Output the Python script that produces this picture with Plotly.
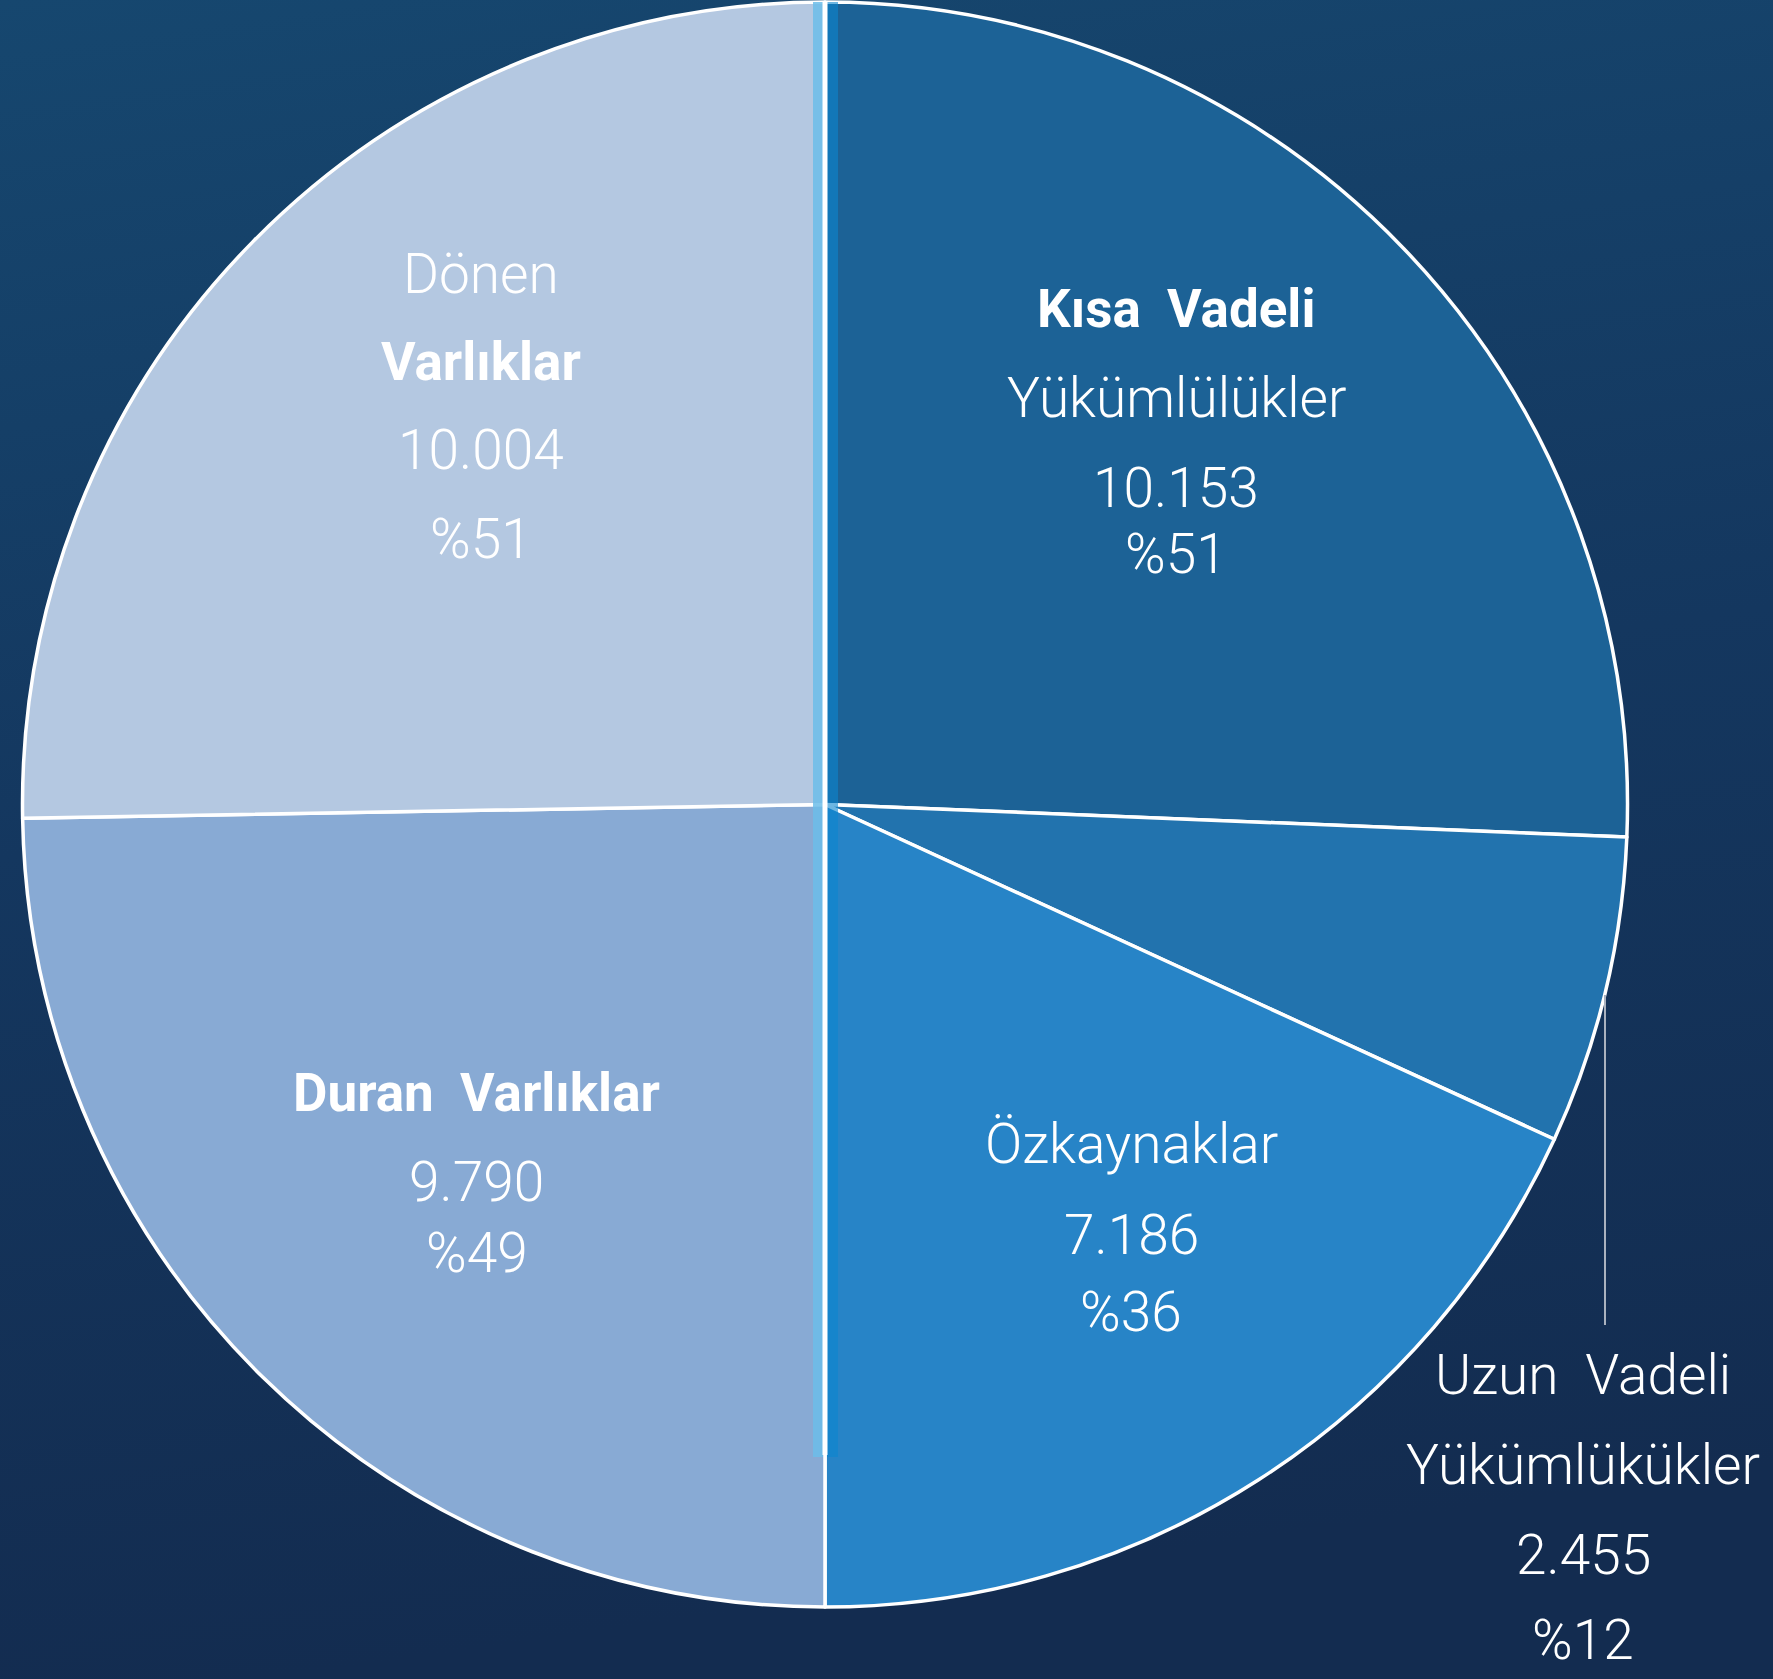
import base64
import plotly.graph_objects as go

W, H = 1773, 1679

# ---- data ----
slice_names = ["Kısa Vadeli Yükümlülükler", "Uzun Vadeli Yükümlülükler",
               "Özkaynaklar", "Duran Varlıklar", "Dönen Varlıklar"]
slice_values = [10153, 2455, 7186, 9790, 10004]
slice_pcts = [51, 12, 36, 49, 51]
slice_colors = ["#1c6296", "#2273ae", "#2784c7", "#88aad4", "#b4c8e1"]
# title lines for each slice: (text, bold)
slice_title_lines = [
    [("Kısa  Vadeli", True), ("Yükümlülükler", False)],
    [("Uzun  Vadeli", False), ("Yükümlükükler", False)],
    [("Özkaynaklar", False)],
    [("Duran  Varlıklar", True)],
    [("Dönen", False), ("Varlıklar", True)],
]
# label line centre positions in pixels (x, list of y)
label_x = [1176, 1583, 1131, 477, 481]
label_y = [
    [309, 398, 488, 554],
    [1375, 1465, 1555, 1640],
    [1144, 1235, 1312],
    [1093, 1182, 1253],
    [274, 362, 450, 539],
]

fig = go.Figure()
fig.add_trace(go.Pie(
    labels=slice_names,
    values=slice_values,
    sort=False,
    direction="clockwise",
    rotation=0,
    marker=dict(colors=slice_colors, line=dict(color="white", width=3.5)),
    textinfo="none",
    hoverinfo="label+value",
    showlegend=False,
    domain=dict(x=[22 / W, 1628 / W], y=[1 - 1607 / H, 1 - 2 / H]),
))

# gradient background via svg data uri
svg = f'''<svg xmlns="http://www.w3.org/2000/svg" width="{W}" height="{H}" preserveAspectRatio="none">
<defs><linearGradient id="g" x1="0" y1="0" x2="0.15" y2="1">
<stop offset="0" stop-color="#16476f"/>
<stop offset="0.5" stop-color="#14375f"/>
<stop offset="1" stop-color="#132c50"/>
</linearGradient></defs>
<rect width="{W}" height="{H}" fill="url(#g)"/></svg>'''
src = "data:image/svg+xml;base64," + base64.b64encode(svg.encode()).decode()

def px(x):
    return x / W

def py(y):
    return 1 - y / H

FONT = "Roboto, Noto Sans, sans-serif"
annotations = []
for i in range(len(slice_values)):
    lines = list(slice_title_lines[i])
    lines.append((f"{slice_values[i]:,}".replace(",", "."), False))
    lines.append((f"%{slice_pcts[i]}", False))
    for (txt, bold), yy in zip(lines, label_y[i]):
        annotations.append(dict(
            x=px(label_x[i]), y=py(yy), xref="paper", yref="paper",
            text=txt, showarrow=False,
            xanchor="center", yanchor="middle",
            font=dict(family=FONT, size=53 if bold else 55, color="white",
                      weight=700 if bold else 300),
        ))

shapes = [
    # center glow
    dict(type="rect", xref="paper", yref="paper", x0=px(813), x1=px(823),
         y0=py(1457), y1=py(2), fillcolor="#6cbde9", line=dict(width=0), opacity=0.85, layer="above"),
    dict(type="rect", xref="paper", yref="paper", x0=px(827), x1=px(838),
         y0=py(1457), y1=py(2), fillcolor="#0b86cf", line=dict(width=0), opacity=0.6, layer="above"),
    dict(type="line", xref="paper", yref="paper", x0=px(825), x1=px(825),
         y0=py(1455), y1=py(2), line=dict(color="white", width=5), layer="above"),
    # leader line for Uzun Vadeli
    dict(type="line", xref="paper", yref="paper", x0=px(1605), x1=px(1605),
         y0=py(995), y1=py(1325), line=dict(color="#aab2bf", width=2), layer="above"),
]

fig.update_layout(
    width=W, height=H,
    margin=dict(l=0, r=0, t=0, b=0),
    paper_bgcolor="#143a62",
    plot_bgcolor="rgba(0,0,0,0)",
    images=[dict(source=src, xref="paper", yref="paper", x=0, y=1, sizex=1, sizey=1,
                 sizing="stretch", layer="below", xanchor="left", yanchor="top")],
    annotations=annotations,
    shapes=shapes,
)

fig.write_html("out.html", config={"displayModeBar": False},
               post_script="document.body.style.margin='0';document.body.style.overflow='hidden';")
